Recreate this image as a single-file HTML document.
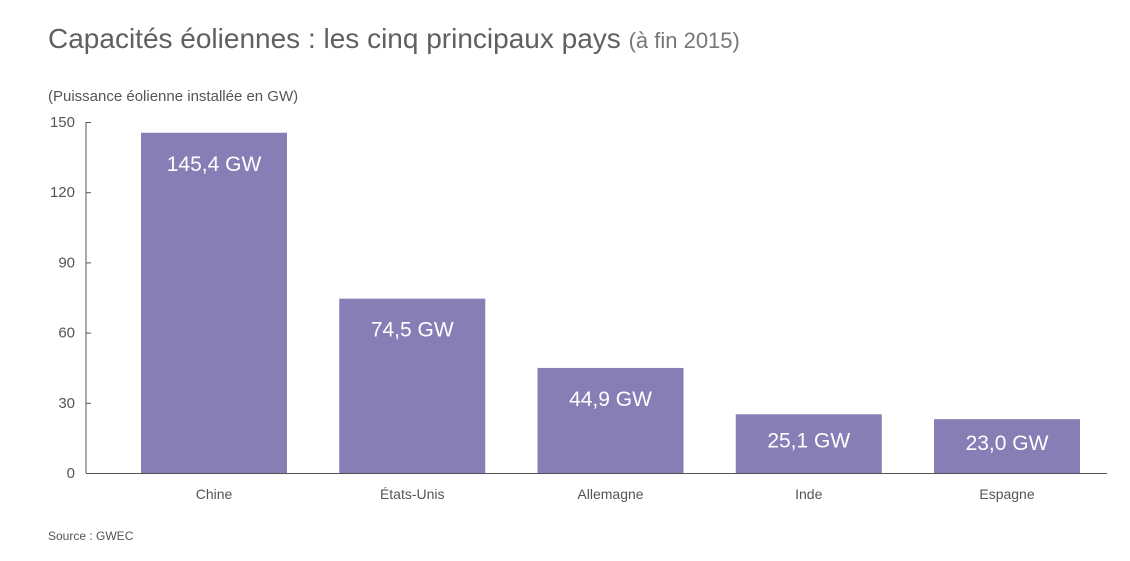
<!DOCTYPE html>
<html><head><meta charset="utf-8"><style>
body{margin:0;background:#fff;font-family:"Liberation Sans",sans-serif;}
svg{display:block}
</style></head><body>
<svg id="c" width="1130" height="561">
<text x="48" y="48" font-size="28" fill="#606060">Capacités éoliennes : les cinq principaux pays <tspan font-size="22" fill="#777">(à fin 2015)</tspan></text>
<text x="48" y="101" font-size="15" fill="#555">(Puissance éolienne installée en GW)</text>
<text x="48" y="540" font-size="12" fill="#555">Source : GWEC</text>
<g id="plot"></g>
</svg>
<script>
const categories=["Chine","États-Unis","Allemagne","Inde","Espagne"];
const values=[145.4,74.5,44.9,25.1,23.0];
const valueLabels=["145,4 GW","74,5 GW","44,9 GW","25,1 GW","23,0 GW"];
const yTicks=[0,30,60,90,120,150];
const NS="http://www.w3.org/2000/svg";
const g=document.getElementById('plot');
const y0=473,y1=122,yMax=150;
function y(v){return y0-(v/yMax)*(y0-y1);}
function xc(i){return 214+i*198.25;}
const bw=146;
function mk(t,a){const e=document.createElementNS(NS,t);for(const k in a)e.setAttribute(k,a[k]);g.appendChild(e);return e;}
const ax=mk('line',{x1:86,x2:86,y1:y1,y2:y0,stroke:'#555','stroke-width':1});


const bl=mk('line',{x1:86,x2:1107,y1:y0+0.5,y2:y0+0.5,stroke:'#555','stroke-width':1});


yTicks.forEach(t=>{
  const l=mk('line',{x1:86,x2:91,y1:y(t)+0.5,y2:y(t)+0.5,stroke:'#555'});
  
  
  const tx=mk('text',{x:75,y:y(t)+5,'text-anchor':'end','font-size':15,fill:'#555'});
  tx.textContent=t;
  
  
});
categories.forEach((c,i)=>{
  const top=y(values[i]),h=y0-top;
  const r=mk('rect',{x:xc(i)-bw/2,y:top,width:bw,height:h,fill:'#857fb5'});
  
  
  const by=Math.min(top+38,top+h/2+4);
  const vl=mk('text',{x:xc(i),y:by,'text-anchor':'middle','font-size':21,fill:'#fff'});
  vl.textContent=valueLabels[i];
  
  
  const cl=mk('text',{x:xc(i),y:499,'text-anchor':'middle','font-size':14,fill:'#555'});
  cl.textContent=c;
  
  
});
</script>
</body></html>
